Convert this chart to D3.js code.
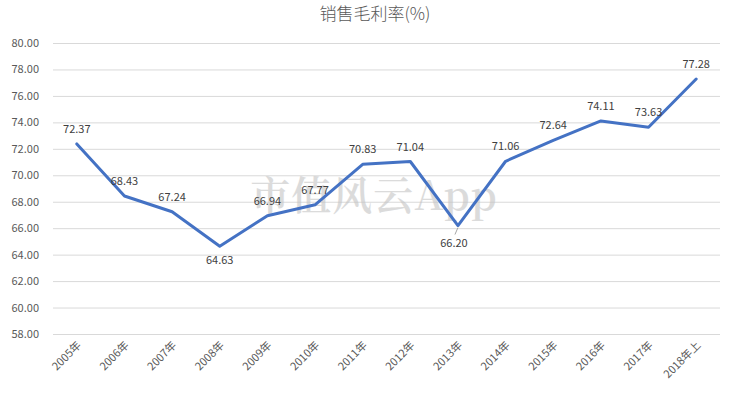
<!DOCTYPE html>
<html><head><meta charset="utf-8">
<script src="https://cdn.jsdelivr.net/npm/d3@7"></script>
<style>body{margin:0;background:#fff}svg{display:block}</style>
</head><body>
<svg id="c" width="747" height="399"></svg>
<script>
const categories = ["2005年","2006年","2007年","2008年","2009年","2010年","2011年","2012年","2013年","2014年","2015年","2016年","2017年","2018年上"];
const values = [72.37,68.43,67.24,64.63,66.94,67.77,70.83,71.04,66.20,71.06,72.64,74.11,73.63,77.28];
const yTicks = [58,60,62,64,66,68,70,72,74,76,78,80];
const labelBelow = [false,false,false,true,false,false,false,false,true,false,false,false,false,false];

const svg = d3.select("#c");
const font = "'Noto Sans CJK SC','Noto Sans',sans-serif";
const m = {l:53, r:27, t:43, b:65};
const W = 747, H = 399;
const x = d3.scaleBand().domain(categories).range([m.l, W-m.r]);
const y = d3.scaleLinear().domain([58,80]).range([H-m.b, m.t]);

svg.append("text").attr("x",375).attr("y",20).attr("text-anchor","middle")
  .attr("font-family",font).attr("font-size",17).attr("font-weight",300).attr("fill","#595959")
  .text("销售毛利率(%)");

const ya = svg.append("g").attr("transform",`translate(${m.l},0)`)
  .call(d3.axisLeft(y).tickValues(yTicks).tickFormat(d3.format(".2f")).tickSize(-(W-m.l-m.r)).tickPadding(14));
ya.select(".domain").remove();
ya.selectAll(".tick line").attr("stroke","#d9d9d9");
ya.selectAll(".tick text").attr("font-family",font).attr("font-size",11).attr("fill","#595959");

const xa = svg.append("g").attr("transform",`translate(0,${H-m.b})`)
  .call(d3.axisBottom(x).tickSize(0).tickPadding(0));
xa.select(".domain").remove();
xa.selectAll(".tick text").attr("font-family",font).attr("font-size",11).attr("fill","#595959")
  .attr("text-anchor","end").attr("dy",0).attr("transform","translate(5,12) rotate(-45)");

// watermark
svg.append("text").attr("x",374).attr("y",210).attr("text-anchor","middle")
  .attr("font-family","'Noto Serif CJK SC','Noto Sans CJK SC',serif").attr("font-size",40)
  .attr("font-weight",600)
  .attr("fill","#c4c4c4").attr("opacity",0.6).attr("letter-spacing",1).text("市值风云App");

const cx = (d,i)=>x(categories[i])+x.bandwidth()/2;
const line = d3.line().x((d,i)=>cx(d,i)).y(d=>y(d));
svg.append("path").datum(values).attr("d",line).attr("fill","none")
  .attr("stroke","#4472C4").attr("stroke-width",3).attr("stroke-linejoin","round").attr("stroke-linecap","round");

// leader line for 2013
const i13 = 8;
svg.append("line").attr("x1",cx(values[i13],i13)).attr("y1",y(values[i13])+2)
  .attr("x2",cx(values[i13],i13)-3).attr("y2",y(values[i13])+9).attr("stroke","#a6a6a6").attr("stroke-width",1);

svg.append("g").selectAll("text").data(values).join("text")
  .attr("x",(d,i)=>cx(d,i) - (i===8?4:0))
  .attr("y",(d,i)=>labelBelow[i] ? y(d)+(i===8?21:18) : y(d)-11)
  .attr("text-anchor","middle").attr("font-family",font).attr("font-size",11).attr("fill","#404040")
  .text(d=>d3.format(".2f")(d));
</script>
</body></html>
